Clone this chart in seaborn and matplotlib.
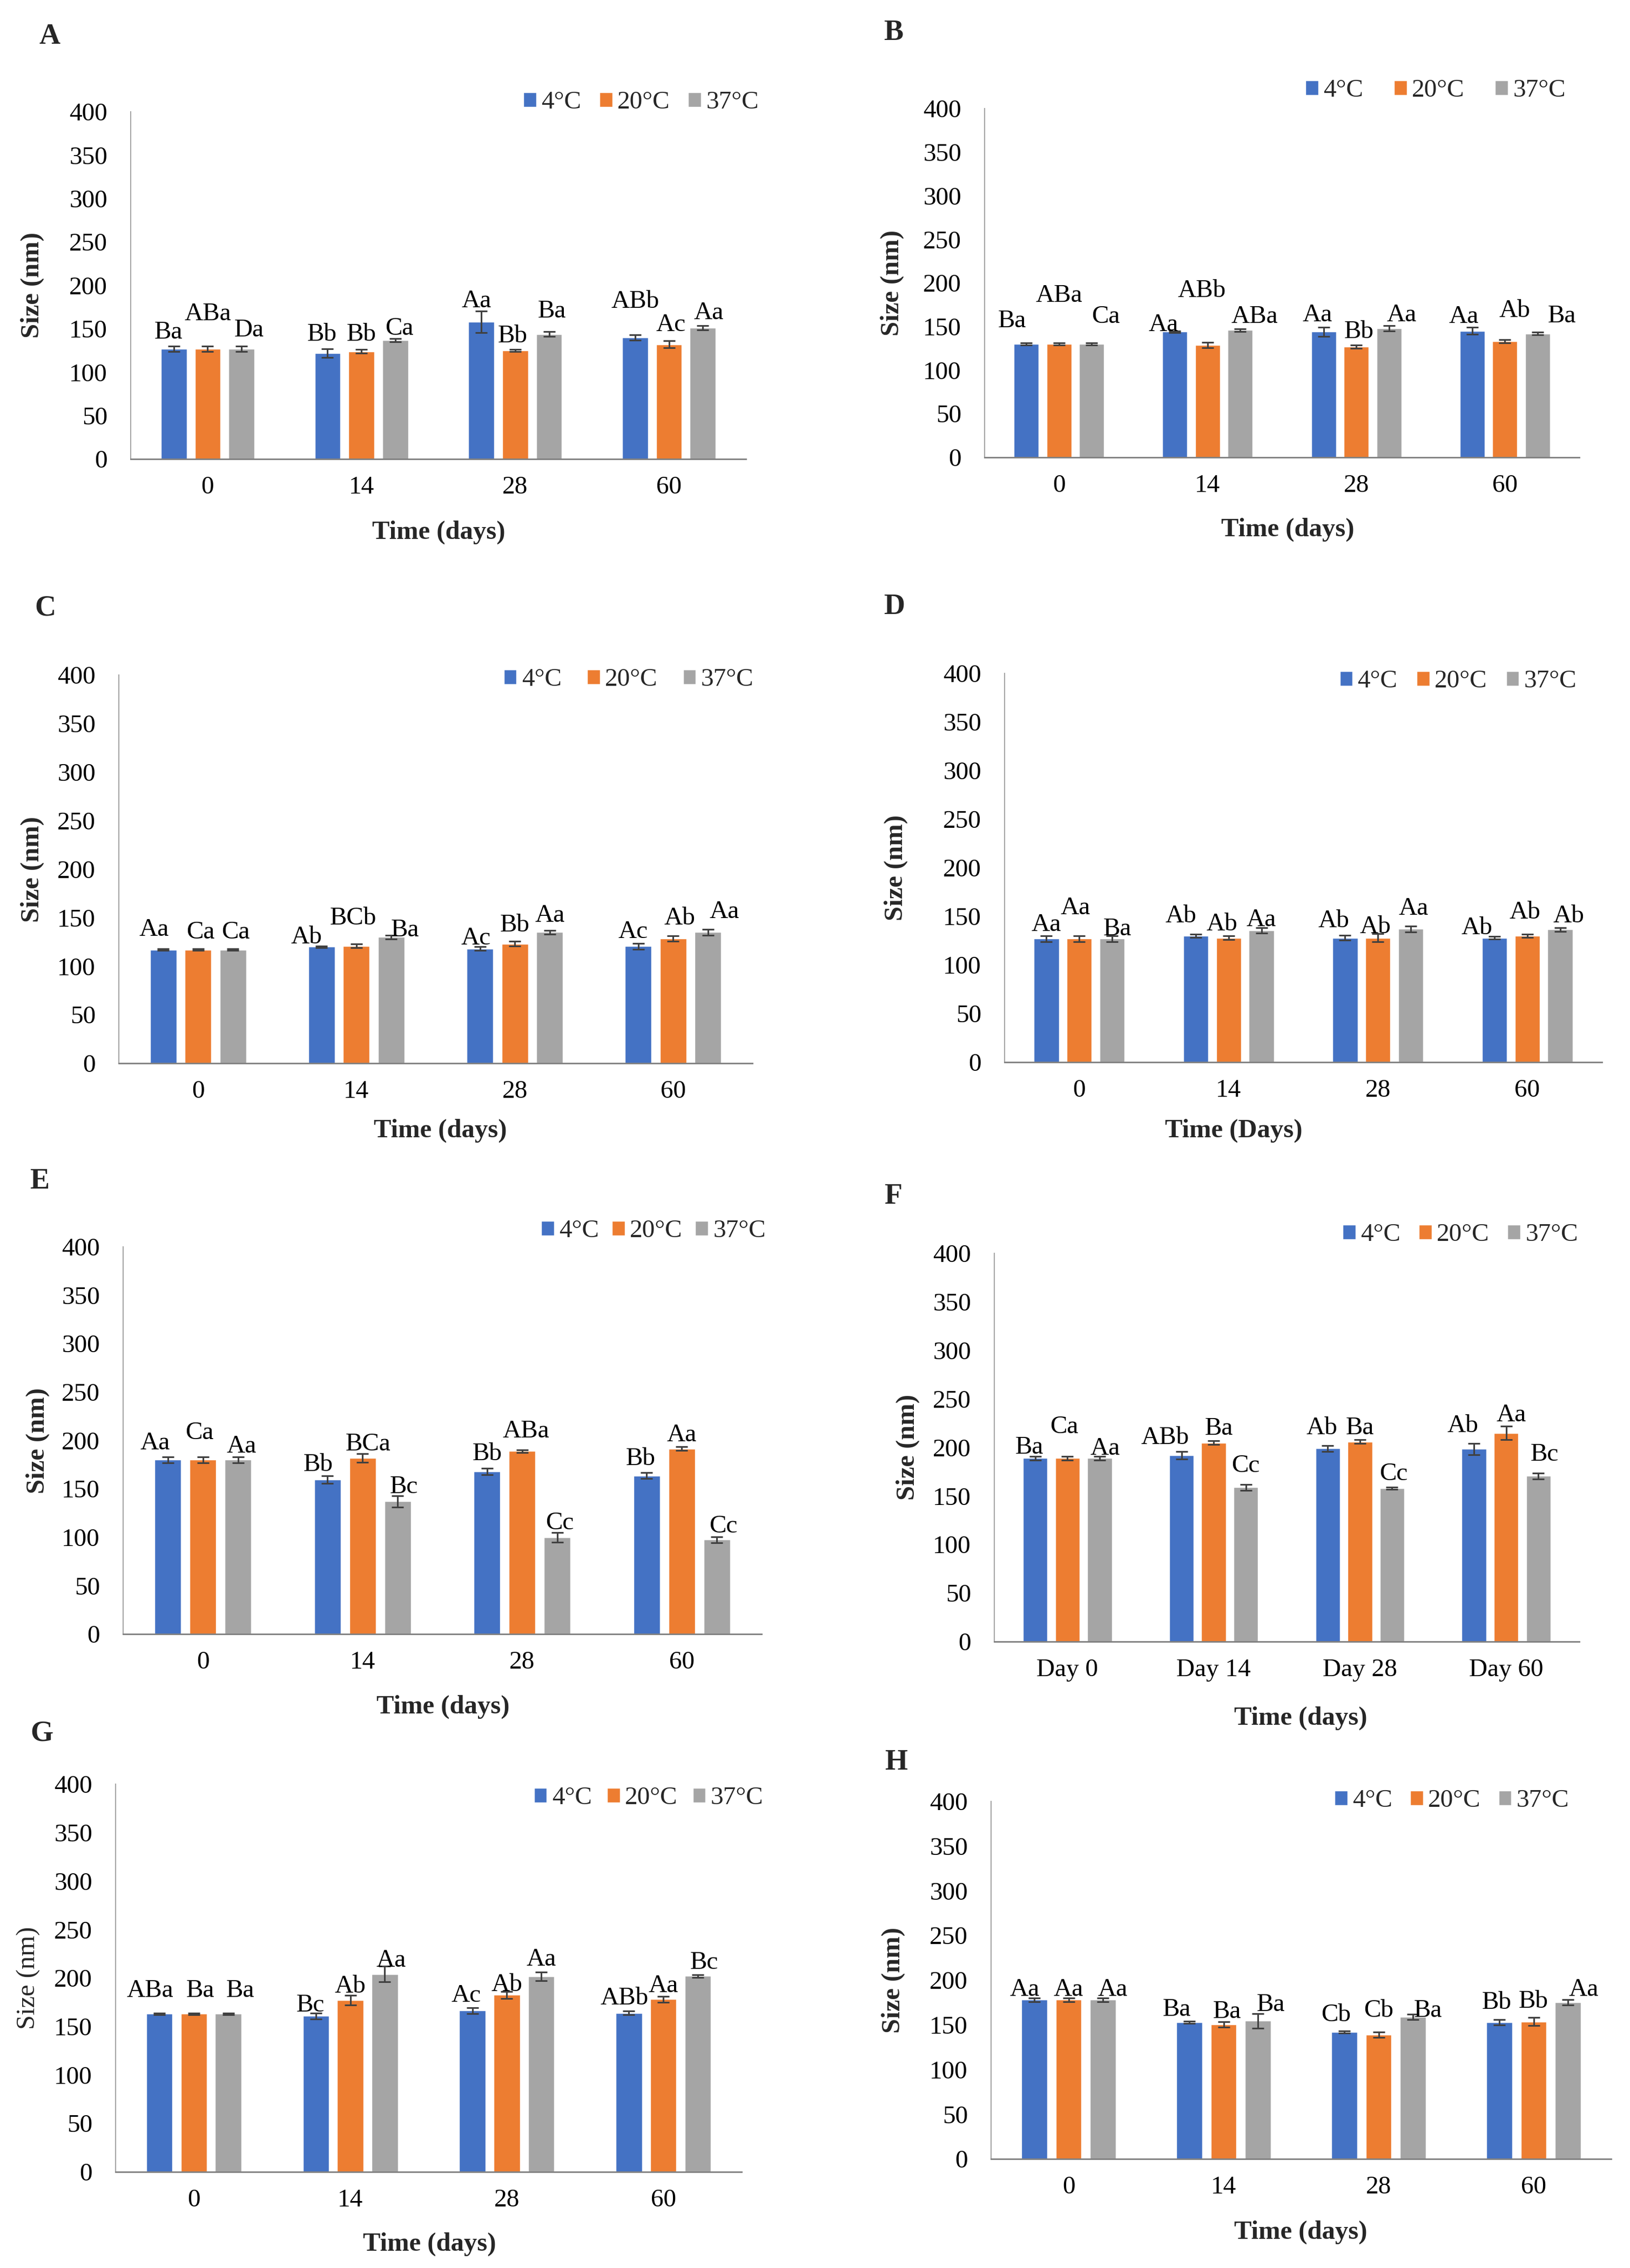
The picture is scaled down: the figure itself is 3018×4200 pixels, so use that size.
import numpy as np
import pandas as pd
import matplotlib
matplotlib.use("Agg")
import matplotlib.pyplot as plt
from matplotlib.container import BarContainer
import seaborn as sns

# ---------------- data ----------------
temps = ["4°C", "20°C", "37°C"]
days = ["0", "14", "28", "60"]
days_F = ["Day 0", "Day 14", "Day 28", "Day 60"]
colors = ["#4472C4", "#ED7D31", "#A5A5A5"]

# rows: 4°C, 20°C, 37°C ; columns: day 0, 14, 28, 60
A_mean = [[127, 122, 158, 140], [127, 124, 125, 132], [127, 137, 144, 151]]
A_sd = [[3, 5, 12.5, 3], [3, 2, 1, 4], [3, 2, 3, 2.5]]
A_let = [["Ba", "Bb", "Aa", "ABb"], ["ABa", "Bb", "Bb", "Ac"], ["Da", "Ca", "Ba", "Aa"]]

B_mean = [[130, 144, 144, 145], [130, 129, 127, 133], [130, 146, 148, 142]]
B_sd = [[1.5, 1, 5, 4], [1.5, 3, 2, 2], [1.5, 1.5, 3, 1.5]]
B_let = [["Ba", "Aa", "Aa", "Aa"], ["ABa", "ABb", "Bb", "Ab"], ["Ca", "ABa", "Aa", "Ba"]]

C_mean = [[117, 120, 118, 120.6], [117, 121, 123, 128.5], [117, 130, 135, 135]]
C_sd = [[1, 1, 2, 3], [1, 2, 2.5, 3], [1, 2, 2, 3]]
C_let = [["Aa", "Ab", "Ac", "Ac"], ["Ca", "BCb", "Bb", "Ab"], ["Ca", "Ba", "Aa", "Aa"]]

D_mean = [[127, 130, 128, 128], [127, 128, 128, 130], [127, 135.5, 137, 136.6]]
D_sd = [[3, 1.5, 2.5, 1.5], [3, 2, 4, 1.5], [3, 3, 3, 2]]
D_let = [["Aa", "Ab", "Ab", "Ab"], ["Aa", "Ab", "Ab", "Ab"], ["Ba", "Aa", "Aa", "Ab"]]

E_mean = [[180, 159.7, 168, 163.6], [180, 182, 189, 191.5], [180, 137, 100, 97.5]]
E_sd = [[3, 4, 3.5, 3], [3, 4.5, 1.5, 2], [3, 6, 5, 3]]
E_let = [["Aa", "Bb", "Bb", "Bb"], ["Ca", "BCa", "ABa", "Aa"], ["Aa", "Bc", "Cc", "Cc"]]

F_mean = [[189, 192, 199, 198.4], [189, 205, 206, 215], [189, 159, 158, 170.6]]
F_sd = [[2, 4, 3, 6], [2, 2, 2, 7], [2, 3, 1, 3]]
F_let = [["Ba", "ABb", "Ab", "Ab"], ["Ca", "Ba", "Ba", "Aa"], ["Aa", "Cc", "Cc", "Bc"]]

G_mean = [[163, 160.8, 166.4, 164], [163, 177, 182.6, 178], [163, 204, 201.7, 202]]
G_sd = [[1, 3, 3, 2], [1, 5, 3.5, 3], [1, 8, 4.5, 1.5]]
G_let = [["ABa", "Bc", "Ac", "ABb"], ["Ba", "Ab", "Ab", "Aa"], ["Ba", "Aa", "Aa", "Bc"]]

H_mean = [[178, 152.8, 142, 152.8], [178, 150.4, 139, 153.7], [178, 154.5, 159, 175]]
H_sd = [[2, 1, 1, 3], [2, 3, 3, 4.5], [2, 8, 3, 3]]
H_let = [["Aa", "Ba", "Cb", "Bb"], ["Aa", "Ba", "Cb", "Bb"], ["Aa", "Ba", "Ba", "Aa"]]

# ---------------- layout: label lift above bar top (data units) ----------------
A_lift = [[19, 21, 24, 41], [40, 19, 16.5, 22.5], [21, 13, 26, 17]]
B_lift = [[26, 8, 19, 16], [55, 62, 17, 35], [31, 15, 15, 20]]
C_lift = [[20.5, 10, 10.5, 15], [18, 28, 19, 20.5], [18, 7, 17, 21]]
D_lift = [[14, 20, 17, 10], [31.7, 14, 11, 24], [10, 11, 21, 13.5]]
E_lift = [[17, 15.3, 18, 17.3], [27.7, 14, 20.6, 14], [13.5, 14.7, 14.5, 13.8]]
F_lift = [[11, 18, 21, 23.6], [32, 14.6, 14, 18], [10, 22, 14.5, 22]]
G_lift = [[24, 11, 15.6, 15], [24, 14, 10.5, 14], [24, 14, 17.6, 14]]
H_lift = [[11, 14, 18.6, 22], [11, 14, 27, 22], [11, 18, 7, 14]]

# ---------------- layout: label sideways nudge (1/290 category unit) ----------------
A_dx = [[-10, -10, -9, 0], [0, 0, -5, 4], [14, 8, 5, 11]]
B_dx = [[-28, -22, -12, -17], [0, -11, 5, 19], [28, 28, 25, 47]]
C_dx = [[-17, -28, -7, -10], [5, -6, 0, 12], [5, 25, 0, 30]]
D_dx = [[0, -29, -22, -34], [-7, -13, -5, -5], [10, 0, 5, 17]]
E_dx = [[-23, -17, 0, -11], [-6, 10, 7, 0], [6, 11, 4, 12]]
F_dx = [[-12, -33, -12, -22], [-6, 10, 0, 10], [11, 0, 3, 12]]
G_dx = [[-17, -10, -12, -8], [12, 0, 0, 0], [22, 12, 0, 12]]
H_dx = [[-18, -24, -16, -5], [0, 6, 0, 0], [19, 24, 29, 30]]

W, H = 3018, 4200
sns.set_style("white")
plt.rcParams["font.family"] = ["Liberation Serif", "DejaVu Serif"]

FS = 34

panels = [
    ("A", A_mean, A_sd, A_let, A_lift, A_dx, days, "Time (days)", True, (242, 207, 1381, 850), (92, 68), (812, 986), 60, (1187, 190), 0.72),
    ("B", B_mean, B_sd, B_let, B_lift, B_dx, days, "Time (days)", True, (1823, 201, 2924, 847), (1654, 61), (2384, 981), 1652, (2658, 168), 1.2),
    ("C", C_mean, C_sd, C_let, C_lift, C_dx, days, "Time (days)", True, (220, 1250, 1393, 1969), (84, 1127), (815, 2094), 60, (1164, 1259), 1.0),
    ("D", D_mean, D_sd, D_let, D_lift, D_dx, days, "Time (Days)", True, (1860, 1247, 2966, 1967), (1656, 1124), (2284, 2094), 1659, (2700, 1262), 0.75),
    ("E", E_mean, E_sd, E_let, E_lift, E_dx, days, "Time (days)", True, (228, 2309, 1410, 3026), (73, 2188), (820, 3161), 70, (1210, 2280), 0.5),
    ("F", F_mean, F_sd, F_let, F_lift, F_dx, days_F, "Time (days)", True, (1841, 2321, 2924, 3040), (1654, 2216), (2408, 3182), 1681, (2704, 2287), 0.72),
    ("G", G_mean, G_sd, G_let, G_lift, G_dx, days, "Time (days)", False, (214, 3304, 1373, 4022), (77, 3211), (795, 4156), 53, (1201, 3330), 0.6),
    ("H", H_mean, H_sd, H_let, H_lift, H_dx, days, "Time (days)", True, (1835, 3336, 2983, 3998), (1659, 3264), (2408, 4134), 1654, (2688, 3335), 0.7),
]

fig = plt.figure(figsize=(W / 100, H / 100), dpi=100)

for (name, mean, sd, let, lift, dx, xt, xlab, ybold, box, lpos, xlpos, ylx, legc, colsp) in panels:
    l, t, r, b = box
    ax = fig.add_axes([l / W, 1 - b / H, (r - l) / W, (b - t) / H])
    rows = []
    for i, tp in enumerate(temps):
        for j, d in enumerate(xt):
            rows.append({"day": d, "temp": tp, "size": mean[i][j], "sd": sd[i][j],
                         "let": let[i][j], "lift": lift[i][j], "dx": dx[i][j] / 290})
    df = pd.DataFrame(rows)
    sns.barplot(data=df, x="day", y="size", hue="temp", order=xt, hue_order=temps,
                palette=colors, saturation=1, width=0.66, gap=0.24, errorbar=None,
                ax=ax)
    bar_conts = [c for c in ax.containers if isinstance(c, BarContainer)]
    for i, cont in enumerate(bar_conts):
        bars = sorted(cont.patches, key=lambda p: p.get_x())
        for j, bar in enumerate(bars):
            x = bar.get_x() + bar.get_width() / 2
            hgt = bar.get_height()
            rec = df[(df.temp == temps[i]) & (df.day == xt[j])].iloc[0]
            ax.errorbar(x, hgt, yerr=rec["sd"], fmt="none", ecolor="#404040",
                        elinewidth=2.2, capsize=8, capthick=2.2, zorder=4)
            ax.text(x + rec["dx"], hgt + rec["lift"], rec["let"], ha="center",
                    va="center", fontsize=FS, color="black", zorder=5)
    ax.set_ylim(0, 400)
    ax.set_xlim(-0.5, 3.5)
    ax.set_yticks(np.arange(0, 401, 50))
    ax.tick_params(axis="both", length=0, labelsize=FS, colors="black")
    ax.tick_params(axis="y", pad=31)
    ax.tick_params(axis="x", pad=23)
    for s in ["top", "right"]:
        ax.spines[s].set_visible(False)
    ax.spines["left"].set_color("#A6A6A6")
    ax.spines["left"].set_linewidth(1.5)
    ax.spines["bottom"].set_color("#7F7F7F")
    ax.spines["bottom"].set_linewidth(2)
    ax.set_facecolor("white")

    ax.set_xlabel(xlab, fontsize=35, fontweight="bold", va="center")
    ax.xaxis.set_label_coords((xlpos[0] - l) / (r - l), (b - xlpos[1]) / (b - t))
    ax.set_ylabel("Size (nm)", fontsize=35, fontweight="bold" if ybold else "normal",
                  va="center")
    ax.yaxis.set_label_coords((ylx - l) / (r - l), 0.5)

    h, labs = ax.get_legend_handles_labels()
    if ax.get_legend() is not None:
        ax.get_legend().remove()
    ax.legend(h, labs, loc="center", bbox_to_anchor=(legc[0] / W, 1 - legc[1] / H),
              bbox_transform=fig.transFigure, ncol=3, frameon=False, fontsize=FS,
              handlelength=0.5, handleheight=0.5, handletextpad=0.2,
              columnspacing=colsp, borderaxespad=0, borderpad=0)

    fig.text(lpos[0] / W, 1 - lpos[1] / H, name, fontsize=39, fontweight="bold",
             ha="center", va="center")

fig.savefig("out.png", dpi=100, facecolor="white")
